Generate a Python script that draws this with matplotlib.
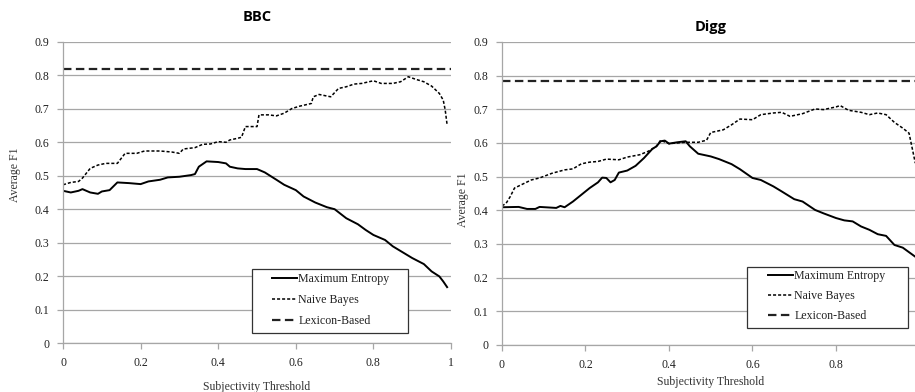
import matplotlib
matplotlib.use("Agg")
import matplotlib.pyplot as plt
from matplotlib.patches import Rectangle

# ---- data ----
bbc_me_x = [0, 0.02, 0.04, 0.05, 0.07, 0.09, 0.10, 0.12, 0.14, 0.17, 0.20, 0.22, 0.25, 0.27, 0.30, 0.33, 0.34,
            0.35, 0.37, 0.40, 0.42, 0.43, 0.45, 0.47, 0.50, 0.52, 0.55, 0.57, 0.60, 0.62, 0.65, 0.68, 0.70,
            0.73, 0.76, 0.78, 0.80, 0.83, 0.85, 0.88, 0.90, 0.93, 0.95, 0.97, 0.98, 0.99]
bbc_me_y = [0.455, 0.450, 0.455, 0.460, 0.450, 0.446, 0.453, 0.457, 0.480, 0.478, 0.475, 0.483, 0.488, 0.495,
            0.497, 0.502, 0.505, 0.527, 0.543, 0.541, 0.537, 0.527, 0.522, 0.520, 0.520, 0.510, 0.488, 0.473,
            0.457, 0.438, 0.420, 0.406, 0.400, 0.373, 0.355, 0.338, 0.323, 0.308, 0.289, 0.268, 0.254, 0.236,
            0.214, 0.199, 0.184, 0.167]

bbc_nb_x = [0, 0.02, 0.04, 0.05, 0.07, 0.09, 0.11, 0.14, 0.15, 0.16, 0.19, 0.21, 0.25, 0.28, 0.30, 0.31, 0.34,
            0.36, 0.38, 0.40, 0.42, 0.43, 0.45, 0.46, 0.47, 0.49, 0.50, 0.505, 0.53, 0.55, 0.57, 0.59, 0.61,
            0.64, 0.645, 0.66, 0.69, 0.71, 0.73, 0.75, 0.77, 0.80, 0.82, 0.85, 0.87, 0.89, 0.91, 0.93, 0.95,
            0.97, 0.98, 0.985, 0.99]
bbc_nb_y = [0.473, 0.480, 0.483, 0.493, 0.522, 0.532, 0.537, 0.537, 0.552, 0.567, 0.567, 0.574, 0.574, 0.571,
            0.567, 0.580, 0.584, 0.594, 0.595, 0.602, 0.600, 0.607, 0.612, 0.615, 0.647, 0.647, 0.647, 0.682,
            0.682, 0.679, 0.687, 0.701, 0.708, 0.716, 0.736, 0.743, 0.736, 0.761, 0.766, 0.774, 0.776, 0.784,
            0.776, 0.776, 0.781, 0.796, 0.788, 0.781, 0.768, 0.746, 0.726, 0.697, 0.652]

bbc_lex = 0.82

digg_me_x = [0, 0.04, 0.06, 0.08, 0.09, 0.13, 0.14, 0.15, 0.17, 0.19, 0.21, 0.23, 0.24, 0.25, 0.26, 0.27, 0.28,
             0.30, 0.32, 0.34, 0.36, 0.37, 0.38, 0.39, 0.40, 0.42, 0.44, 0.45, 0.47, 0.50, 0.52, 0.55, 0.57,
             0.60, 0.62, 0.65, 0.67, 0.70, 0.72, 0.75, 0.77, 0.80, 0.82, 0.84, 0.86, 0.88, 0.90, 0.92, 0.94,
             0.96, 0.99]
digg_me_y = [0.409, 0.410, 0.404, 0.404, 0.410, 0.407, 0.413, 0.409, 0.426, 0.446, 0.466, 0.483, 0.497, 0.496,
             0.483, 0.490, 0.512, 0.518, 0.532, 0.555, 0.582, 0.590, 0.605, 0.607, 0.598, 0.602, 0.605, 0.590,
             0.568, 0.560, 0.552, 0.537, 0.522, 0.496, 0.490, 0.471, 0.456, 0.433, 0.426, 0.401, 0.391, 0.377,
             0.370, 0.367, 0.352, 0.342, 0.329, 0.324, 0.297, 0.289, 0.262]

digg_nb_x = [0, 0.01, 0.02, 0.03, 0.05, 0.07, 0.09, 0.12, 0.15, 0.17, 0.19, 0.21, 0.23, 0.25, 0.28, 0.30, 0.33,
             0.35, 0.37, 0.38, 0.40, 0.42, 0.44, 0.47, 0.49, 0.50, 0.53, 0.55, 0.57, 0.60, 0.62, 0.65, 0.67,
             0.69, 0.72, 0.75, 0.77, 0.80, 0.81, 0.83, 0.86, 0.88, 0.90, 0.92, 0.94, 0.96, 0.975, 0.985, 0.99]
digg_nb_y = [0.413, 0.421, 0.441, 0.466, 0.478, 0.490, 0.496, 0.510, 0.520, 0.523, 0.538, 0.543, 0.545, 0.552,
             0.550, 0.558, 0.565, 0.575, 0.590, 0.608, 0.598, 0.600, 0.602, 0.602, 0.608, 0.631, 0.639, 0.654,
             0.671, 0.669, 0.684, 0.689, 0.691, 0.679, 0.687, 0.701, 0.699, 0.707, 0.711, 0.697, 0.691, 0.684,
             0.689, 0.684, 0.661, 0.644, 0.629, 0.570, 0.540]

digg_lex = 0.783

titles = ["BBC", "Digg"]
series_names = ["Maximum Entropy", "Naive Bayes", "Lexicon-Based"]
y_ticks = [0, 0.1, 0.2, 0.3, 0.4, 0.5, 0.6, 0.7, 0.8, 0.9]
x_ticks_bbc = [0, 0.2, 0.4, 0.6, 0.8, 1]
x_ticks_digg = [0, 0.2, 0.4, 0.6, 0.8]
x_label = "Subjectivity Threshold"
y_label = "Average F1"


def fmt(v):
    if v == 0:
        return "0"
    if v == 1:
        return "1"
    return f"{v:.1f}"


# ---- figure ----
fig = plt.figure(figsize=(9.15, 3.92), dpi=100)
serif = ["Liberation Serif", "DejaVu Serif"]
grid_c = "#a6a6a6"

panels = [
    dict(rect=[0.0689, 0.125, 0.4240, 0.768], me=(bbc_me_x, bbc_me_y), nb=(bbc_nb_x, bbc_nb_y), lex=bbc_lex,
         xt=x_ticks_bbc, title=titles[0], title_y=1.083,
         box=(0.487, 0.033, 0.402, 0.213), leg_anchor=(0.539, 0.232), lspace=0.75,
         ylab=(-0.125, 0.56), xlab_y=-0.146),
    dict(rect=[0.5486, 0.120, 0.4563, 0.773], me=(digg_me_x, digg_me_y), nb=(digg_nb_x, digg_nb_y), lex=digg_lex,
         xt=x_ticks_digg, title=titles[1], title_y=1.05,
         box=(0.587, 0.056, 0.385, 0.201), leg_anchor=(0.637, 0.247), lspace=0.68,
         ylab=(-0.093, 0.48), xlab_y=-0.122),
]

for p in panels:
    ax = fig.add_axes(p["rect"])
    ax.set_xlim(0, 1)
    ax.set_ylim(0, 0.9)
    ax.set_yticks(y_ticks)
    ax.set_xticks(p["xt"])
    ax.set_yticklabels([fmt(v) for v in y_ticks], fontfamily=serif, fontsize=8.5)
    ax.set_xticklabels([fmt(v) for v in p["xt"]], fontfamily=serif, fontsize=8.5)
    ax.yaxis.grid(True, color=grid_c, linewidth=0.9)
    ax.set_axisbelow(True)
    for s in ["top", "right"]:
        ax.spines[s].set_visible(False)
    for s in ["left", "bottom"]:
        ax.spines[s].set_color(grid_c)
        ax.spines[s].set_linewidth(0.9)
    ax.tick_params(axis="both", colors=grid_c, length=4, width=0.9, labelcolor="#222222", pad=6)
    ax.tick_params(axis="x", pad=6)

    l1, = ax.plot(*p["me"], color="black", linewidth=1.4)
    l2, = ax.plot(*p["nb"], color="black", linewidth=1.1, linestyle=(0, (2.0, 1.3)))
    l3 = ax.axhline(p["lex"], color="#222222", linewidth=1.6, linestyle=(0, (3.8, 2.0)))

    ax.text(0.5, p["title_y"], p["title"], transform=ax.transAxes, ha="center", va="center",
            fontsize=10.5, fontweight="bold", fontfamily=["Open Sans", "DejaVu Sans"])
    ax.text(0.5, p["xlab_y"], x_label, transform=ax.transAxes, ha="center", va="center",
            fontfamily=serif, fontsize=8.5, color="#333333")
    ax.text(p["ylab"][0], p["ylab"][1], y_label, transform=ax.transAxes, ha="center", va="center",
            rotation=90, fontfamily=serif, fontsize=8.5, color="#333333")

    bx, by, bw, bh = p["box"]
    ax.add_patch(Rectangle((bx, by), bw, bh, transform=ax.transAxes, facecolor="white",
                           edgecolor="#333333", linewidth=0.9, zorder=4))
    leg = ax.legend([l1, l2, l3], series_names, loc="upper left", bbox_to_anchor=p["leg_anchor"],
                    prop={"family": serif, "size": 8.6}, frameon=False, handlelength=2.1,
                    handletextpad=0.1, borderpad=0, borderaxespad=0, labelspacing=p["lspace"])
    leg.set_zorder(5)
    for t in leg.get_texts():
        t.set_color("#222222")

fig.savefig("out.png", dpi=100)
